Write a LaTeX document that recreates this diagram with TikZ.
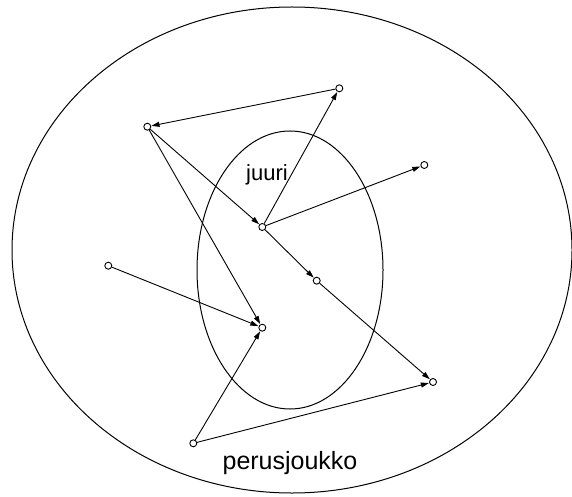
\documentclass[tikz,border=0pt]{standalone}
\usepackage{fontspec}
\setmainfont{Liberation Sans}
\usetikzlibrary{arrows.meta}
\begin{document}
\begin{tikzpicture}[x=1pt,y=-1pt,
  pt/.style={circle,draw,fill=white,minimum size=7pt,inner sep=0pt,line width=0.9pt},
  conn/.style={-{Triangle[length=8pt,width=5pt]},line width=0.9pt,shorten >=0.3pt},
  lbl/.style={anchor=base,inner sep=0pt}]
\useasboundingbox (0,0) rectangle (572,497);
\draw[line width=1pt] (292,250) ellipse [x radius=280, y radius=243];
\draw[line width=1pt] (290,270) ellipse [x radius=93, y radius=139];
\node[lbl,font=\fontsize{22}{26}\selectfont] (juuri) at (267,180) {juuri};
\node[lbl,font=\fontsize{25}{30}\selectfont] (perus) at (290,469) {perusjoukko};
\node[pt] (A) at (147.3,126.7) {};
\node[pt] (B) at (339.3,88.3) {};
\node[pt] (C) at (424.3,165) {};
\node[pt] (D) at (262.3,227) {};
\node[pt] (E) at (108.3,265.7) {};
\node[pt] (F) at (316.7,280.7) {};
\node[pt] (G) at (262.3,327.7) {};
\node[pt] (H) at (433,382) {};
\node[pt] (I) at (193.3,443.3) {};
\draw[conn] (B) -- (A);
\draw[conn] (A) -- (D);
\draw[conn] (A) -- (G);
\draw[conn] (D) -- (B);
\draw[conn] (D) -- (C);
\draw[conn] (D) -- (F);
\draw[conn] (F) -- (H);
\draw[conn] (E) -- (G);
\draw[conn] (I) -- (G);
\draw[conn] (I) -- (H);
\end{tikzpicture}
\end{document}
